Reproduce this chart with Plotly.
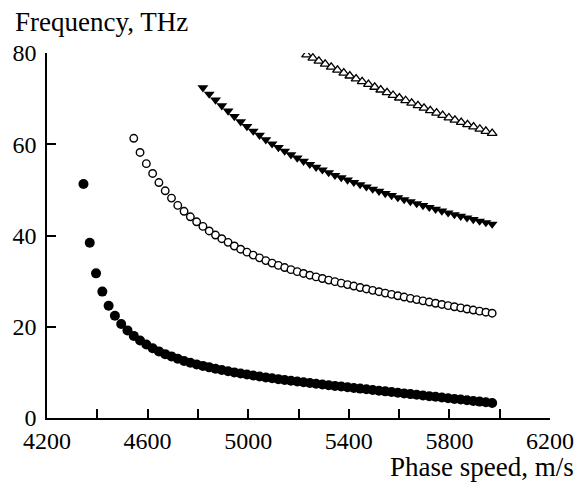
import plotly.graph_objects as go

# Mode 1 (filled circles)
speed_1 = [4345, 4370, 4395, 4420, 4445, 4470, 4495, 4520, 4545, 4570, 4595, 4620,
           4645, 4670, 4695, 4720, 4745, 4770, 4795, 4820, 4845, 4870, 4895, 4920,
           4945, 4970, 4995, 5020, 5045, 5070, 5095, 5120, 5145, 5170, 5195, 5220,
           5245, 5270, 5295, 5320, 5345, 5370, 5395, 5420, 5445, 5470, 5495, 5520,
           5545, 5570, 5595, 5620, 5645, 5670, 5695, 5720, 5745, 5770, 5795, 5820,
           5845, 5870, 5895, 5920, 5945, 5970]
freq_1 = [51.3, 38.4, 31.7, 27.7, 24.6, 22.4, 20.6, 19.2, 18.0, 17.0, 16.1, 15.3,
          14.6, 14.0, 13.5, 13.0, 12.5, 12.1, 11.75, 11.42, 11.1, 10.8, 10.52, 10.25,
          10.0, 9.76, 9.53, 9.31, 9.1, 8.9, 8.71, 8.52, 8.34, 8.17, 8.0, 7.83,
          7.67, 7.51, 7.35, 7.19, 7.04, 6.89, 6.74, 6.59, 6.44, 6.29, 6.14, 5.99,
          5.84, 5.69, 5.54, 5.39, 5.24, 5.09, 4.94, 4.79, 4.64, 4.49, 4.34, 4.19,
          4.04, 3.89, 3.74, 3.59, 3.44, 3.29]

# Mode 2 (open circles)
speed_2 = [4545, 4570, 4595, 4620, 4645, 4670, 4695, 4720, 4745, 4770, 4795, 4820,
           4845, 4870, 4895, 4920, 4945, 4970, 4995, 5020, 5045, 5070, 5095, 5120,
           5145, 5170, 5195, 5220, 5245, 5270, 5295, 5320, 5345, 5370, 5395, 5420,
           5445, 5470, 5495, 5520, 5545, 5570, 5595, 5620, 5645, 5670, 5695, 5720,
           5745, 5770, 5795, 5820, 5845, 5870, 5895, 5920, 5945, 5970]
freq_2 = [61.3, 58.2, 55.75, 53.6, 51.6, 49.8, 48.2, 46.6, 45.3, 44.1, 43.0, 42.0,
          41.0, 40.1, 39.3, 38.5, 37.7, 37.0, 36.35, 35.7, 35.1, 34.5, 33.95, 33.45,
          32.97, 32.52, 32.08, 31.68, 31.3, 30.93, 30.57, 30.23, 29.89, 29.56, 29.24, 28.92,
          28.6, 28.29, 27.98, 27.68, 27.38, 27.09, 26.8, 26.51, 26.23, 25.95, 25.68, 25.41,
          25.15, 24.89, 24.63, 24.38, 24.14, 23.89, 23.66, 23.42, 23.19, 22.97]

# Mode 3 (filled down-triangles)
speed_3 = [4820, 4845, 4870, 4895, 4920, 4945, 4970, 4995, 5020, 5045, 5070, 5095,
           5120, 5145, 5170, 5195, 5220, 5245, 5270, 5295, 5320, 5345, 5370, 5395,
           5420, 5445, 5470, 5495, 5520, 5545, 5570, 5595, 5620, 5645, 5670, 5695,
           5720, 5745, 5770, 5795, 5820, 5845, 5870, 5895, 5920, 5945, 5970]
freq_3 = [72.4, 71.0, 69.7, 68.45, 67.3, 66.1, 64.95, 63.9, 62.9, 62.0, 61.0, 60.1,
          59.3, 58.5, 57.7, 57.0, 56.3, 55.6, 54.96, 54.4, 53.8, 53.2, 52.7, 52.18,
          51.67, 51.16, 50.67, 50.18, 49.7, 49.23, 48.77, 48.32, 47.87, 47.43, 47.0, 46.58,
          46.17, 45.77, 45.37, 44.98, 44.6, 44.23, 43.87, 43.51, 43.16, 42.83, 42.5]

# Mode 4 (open up-triangles)
speed_4 = [5232, 5257, 5281, 5306, 5330, 5355, 5380, 5404, 5429, 5453, 5478, 5503,
           5527, 5552, 5576, 5601, 5626, 5650, 5675, 5699, 5724, 5749, 5773, 5798,
           5822, 5847, 5872, 5896, 5921, 5945, 5970]
freq_4 = [79.6, 78.92, 78.25, 77.58, 76.92, 76.27, 75.63, 74.99, 74.36, 73.74, 73.13, 72.52,
          71.92, 71.33, 70.75, 70.17, 69.6, 69.04, 68.49, 67.94, 67.4, 66.87, 66.34, 65.82,
          65.31, 64.81, 64.31, 63.83, 63.35, 62.87, 62.41]

x_tick_vals = [4200, 4600, 5000, 5400, 5800, 6200]
x_tick_text = ["4200", "4600", "5000", "5400", "5800", "6200"]
y_tick_vals = [0, 20, 40, 60, 80]
y_tick_text = ["0", "20", "40", "60", "80"]

FONT = "Liberation Serif"

fig = go.Figure()
fig.add_trace(go.Scatter(x=speed_1, y=freq_1, mode="markers",
                         marker=dict(symbol="circle", size=10, color="black",
                                     line=dict(width=0))))
fig.add_trace(go.Scatter(x=speed_2, y=freq_2, mode="markers",
                         marker=dict(symbol="circle", size=7.5, color="white",
                                     line=dict(width=1.4, color="black"))))
fig.add_trace(go.Scatter(x=speed_3, y=freq_3, mode="markers",
                         marker=dict(symbol="triangle-down", size=9.5, color="black",
                                     line=dict(width=0))))
fig.add_trace(go.Scatter(x=speed_4, y=freq_4, mode="markers",
                         marker=dict(symbol="triangle-up", size=8.5, color="white",
                                     line=dict(width=1.3, color="black"))))

# the page body adds an 8px offset, so the figure is 8px smaller and shifted
fig.update_layout(
    width=578, height=475,
    margin=dict(l=38.5, r=36, t=45, b=64.7, pad=0),
    plot_bgcolor="white", paper_bgcolor="white",
    showlegend=False,
    font=dict(family=FONT, color="black", size=24),
    xaxis=dict(range=[4200, 6200], tickvals=x_tick_vals, ticktext=x_tick_text,
               ticks="inside", ticklen=9, tickwidth=1.5, tickcolor="black",
               showline=True, linecolor="black", linewidth=1.5,
               showgrid=False, zeroline=False, automargin=False,
               minor=dict(dtick=200, tick0=4200, ticks="inside", ticklen=9,
                          tickwidth=1.5, tickcolor="black", showgrid=False),
               tickfont=dict(family=FONT, size=24, color="black")),
    yaxis=dict(range=[0, 80], tickvals=y_tick_vals, ticktext=y_tick_text,
               ticks="inside", ticklen=9, tickwidth=1.5, tickcolor="black",
               showline=True, linecolor="black", linewidth=1.5,
               showgrid=False, zeroline=False, automargin=False,
               ticklabelstandoff=4,
               tickfont=dict(family=FONT, size=24, color="black")),
    annotations=[
        dict(text="Frequency, THz", xref="paper", yref="paper",
             x=-0.0671, y=1.085, xanchor="left", yanchor="middle",
             showarrow=False, font=dict(family=FONT, size=27, color="black")),
        dict(text="Phase speed, m/s", xref="paper", yref="paper",
             x=1.0516, y=-0.1333, xanchor="right", yanchor="middle",
             showarrow=False, font=dict(family=FONT, size=27, color="black")),
    ],
)

fig.write_html("out.html")
